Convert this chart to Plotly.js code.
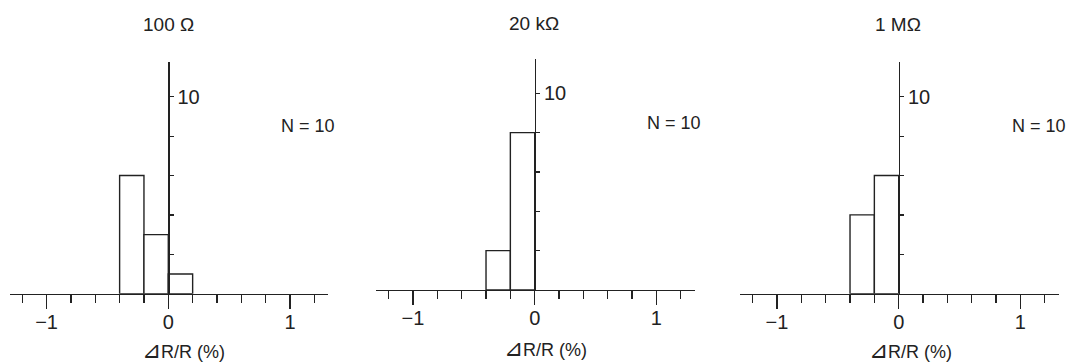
<!DOCTYPE html>
<html>
<head>
<meta charset="utf-8">
<script src="https://cdn.plot.ly/plotly-3.0.1.min.js"></script>
<style>html,body{margin:0;padding:0;background:#fff;}#chart{width:1069px;height:362px;}</style>
</head>
<body>
<div id="chart"></div>
<script>
// Data
const binCenters = [-0.3, -0.1, 0.1];
const binWidth = 0.2;
const counts100 = [6, 3, 1];
const counts20k = [2, 8, 0];
const counts1M = [4, 6, 0];
const panelTitles = ['100 Ω', '20 kΩ', '1 MΩ'];
const sampleLabel = 'N = 10';
const xTitle = '<span style="font-size:23px">⊿</span>R/R (%)';
const xTickVals = [-1, 0, 1];
const xTickText = ['−1', '0', '1'];
const yTickVals = [2, 4, 6, 8, 10];
const yTickText = ['', '', '', '', '10'];

const allCounts = [counts100, counts20k, counts1M];

// Layout geometry (pixels)
const W = 1069, H = 362;
const panels = [
  {x0: 10, x1: 328, yAxisPx: 168.3, base: 293.7, top: 61.7, pxPerY: 19.7,
   titleX: 168, titleY: 25, nX: 308, nY: 126, xtX: 183, xtY: 350},
  {x0: 376, x1: 695, yAxisPx: 534.7, base: 290.0, top: 58.7, pxPerY: 19.67,
   titleX: 534, titleY: 23, nX: 673.5, nY: 122.7, xtX: 545, xtY: 348},
  {x0: 740, x1: 1059, yAxisPx: 898.7, base: 293.7, top: 61.7, pxPerY: 19.7,
   titleX: 898, titleY: 25, nX: 1038.5, nY: 126, xtX: 910, xtY: 350}
];
const ink = '#222';
const fontFam = 'Liberation Sans, Arial, sans-serif';

const data = [];
const layout = {
  width: W, height: H,
  margin: {l: 0, r: 0, t: 0, b: 0},
  paper_bgcolor: '#fff', plot_bgcolor: 'rgba(0,0,0,0)',
  showlegend: false,
  font: {family: fontFam, size: 18, color: ink},
  annotations: []
};

panels.forEach((p, i) => {
  const k = i + 1;
  const xs = k === 1 ? '' : String(k);
  const scaleX = 121.7;
  const xmin = -(p.yAxisPx - p.x0) / scaleX;
  const xmax = (p.x1 - p.yAxisPx) / scaleX;
  const ymax = (p.base - p.top) / p.pxPerY;
  data.push({
    type: 'bar', x: binCenters, y: allCounts[i].map(c => c === 0 ? null : c), width: binWidth,
    xaxis: 'x' + xs, yaxis: 'y' + xs,
    marker: {color: '#fff', line: {color: ink, width: 1.4}},
    hoverinfo: 'skip'
  });
  layout['xaxis' + xs] = {
    domain: [p.x0 / W, p.x1 / W], range: [xmin, xmax], anchor: 'y' + xs,
    showline: true, linecolor: ink, linewidth: 1.2,
    ticks: 'outside', ticklen: 14, tickwidth: 1.2, tickcolor: ink,
    tickvals: xTickVals, ticktext: xTickText, ticklabelstandoff: -4,
    minor: {dtick: 0.2, tick0: 0, ticks: 'outside', ticklen: 8, tickwidth: 1.2, tickcolor: ink, showgrid: false},
    showgrid: false, zeroline: false, fixedrange: true,
    tickfont: {size: 20, color: ink, family: fontFam}
  };
  layout['yaxis' + xs] = {
    domain: [1 - p.base / H, 1 - p.top / H], range: [0, ymax],
    anchor: 'free', position: p.yAxisPx / W, side: 'right',
    showline: true, linecolor: ink, linewidth: 1.2,
    ticks: 'outside', ticklen: 4, tickwidth: 1.2, tickcolor: ink,
    tickvals: yTickVals, ticktext: yTickText,
    showgrid: false, zeroline: false, fixedrange: true,
    tickfont: {size: 20, color: ink, family: fontFam}
  };
  layout.annotations.push(
    {xref: 'paper', yref: 'paper', x: p.titleX / W, y: 1 - p.titleY / H, text: panelTitles[i], showarrow: false,
     font: {size: 19, color: ink}, xanchor: 'center', yanchor: 'middle'},
    {xref: 'paper', yref: 'paper', x: p.nX / W, y: 1 - p.nY / H, text: sampleLabel, showarrow: false,
     font: {size: 18, color: ink}, xanchor: 'center', yanchor: 'middle'},
    {xref: 'paper', yref: 'paper', x: p.xtX / W, y: 1 - p.xtY / H, text: xTitle, showarrow: false,
     font: {size: 18, color: ink}, xanchor: 'center', yanchor: 'middle'}
  );
});

Plotly.newPlot('chart', data, layout, {staticPlot: true, displayModeBar: false});
</script>
</body>
</html>
